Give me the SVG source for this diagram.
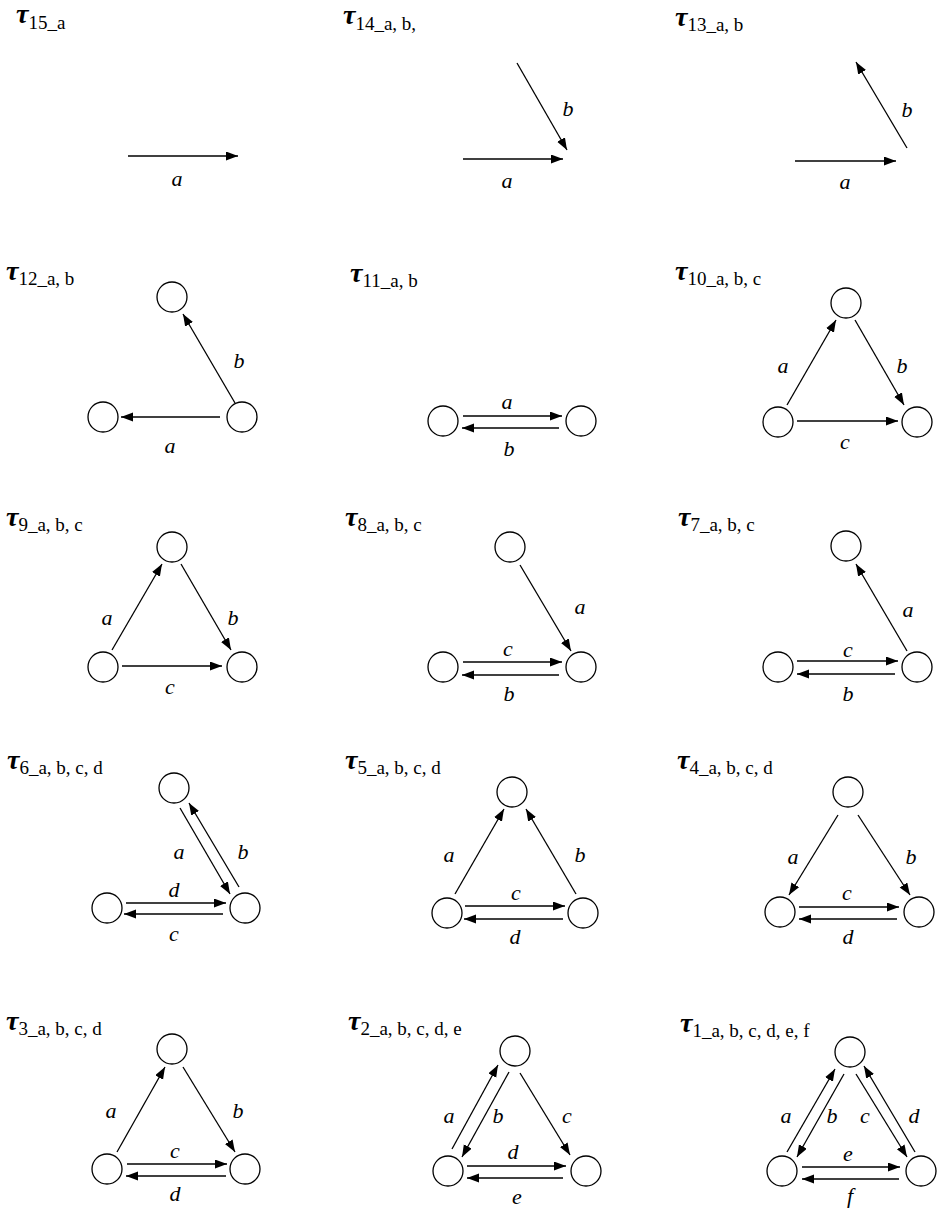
<svg xmlns="http://www.w3.org/2000/svg" width="943" height="1212" viewBox="0 0 943 1212">
<style>
.bg{fill:#fff}
.t{font-family:"Liberation Serif",serif;fill:#000}
.tau{font-size:28px;font-weight:bold;font-style:italic}
.sub{font-size:19px}
.lb{font-family:"Liberation Serif",serif;font-size:22px;font-style:italic;fill:#000;text-anchor:middle}
.n{fill:#fff;stroke:#000;stroke-width:1.3}
.e{stroke:#000;stroke-width:1.3;fill:none;marker-end:url(#ah)}
</style>
<defs>
<marker id="ah" markerUnits="userSpaceOnUse" markerWidth="13" markerHeight="10" refX="12" refY="4.5" orient="auto" viewBox="0 0 13 10">
<path d="M0,0 L12,4.5 L0,9 z" fill="#000"/>
</marker>
</defs>
<rect class="bg" x="0" y="0" width="943" height="1212"/>

<!-- titles -->
<g id="titles">
<text class="t" x="16" y="23"><tspan class="tau">τ</tspan><tspan class="sub" dy="6">15_a</tspan></text>
<text class="t" x="343" y="24"><tspan class="tau">τ</tspan><tspan class="sub" dy="6">14_a, b,</tspan></text>
<text class="t" x="675" y="26"><tspan class="tau">τ</tspan><tspan class="sub" dy="5">13_a, b</tspan></text>
<text class="t" x="6" y="280"><tspan class="tau">τ</tspan><tspan class="sub" dy="5">12_a, b</tspan></text>
<text class="t" x="350" y="282"><tspan class="tau">τ</tspan><tspan class="sub" dy="5">11_a, b</tspan></text>
<text class="t" x="675" y="280"><tspan class="tau">τ</tspan><tspan class="sub" dy="5">10_a, b, c</tspan></text>
<text class="t" x="6" y="526"><tspan class="tau">τ</tspan><tspan class="sub" dy="5">9_a, b, c</tspan></text>
<text class="t" x="345" y="526"><tspan class="tau">τ</tspan><tspan class="sub" dy="5">8_a, b, c</tspan></text>
<text class="t" x="678" y="526"><tspan class="tau">τ</tspan><tspan class="sub" dy="5">7_a, b, c</tspan></text>
<text class="t" x="7" y="769"><tspan class="tau">τ</tspan><tspan class="sub" dy="5">6_a, b, c, d</tspan></text>
<text class="t" x="345" y="769"><tspan class="tau">τ</tspan><tspan class="sub" dy="5">5_a, b, c, d</tspan></text>
<text class="t" x="677" y="769"><tspan class="tau">τ</tspan><tspan class="sub" dy="5">4_a, b, c, d</tspan></text>
<text class="t" x="6" y="1030"><tspan class="tau">τ</tspan><tspan class="sub" dy="5">3_a, b, c, d</tspan></text>
<text class="t" x="348" y="1030"><tspan class="tau">τ</tspan><tspan class="sub" dy="5">2_a, b, c, d, e</tspan></text>
<text class="t" x="680" y="1032"><tspan class="tau">τ</tspan><tspan class="sub" dy="5">1_a, b, c, d, e, f</tspan></text>
</g>

<!-- nodes -->
<g id="n12"><circle class="n" cx="172" cy="297" r="15"/><circle class="n" cx="103" cy="417" r="15"/><circle class="n" cx="242" cy="417" r="15"/></g>
<g id="n11"><circle class="n" cx="443" cy="421" r="15"/><circle class="n" cx="581" cy="421" r="15"/></g>
<g id="n10"><circle class="n" cx="846" cy="303" r="15"/><circle class="n" cx="778" cy="422" r="15"/><circle class="n" cx="917" cy="422" r="15"/></g>
<g id="n9"><circle class="n" cx="172" cy="547" r="15"/><circle class="n" cx="103" cy="667" r="15"/><circle class="n" cx="242" cy="667" r="15"/></g>
<g id="n8"><circle class="n" cx="510" cy="547" r="15"/><circle class="n" cx="443" cy="667" r="15"/><circle class="n" cx="581" cy="667" r="15"/></g>
<g id="n7"><circle class="n" cx="846" cy="546" r="15"/><circle class="n" cx="778" cy="667" r="15"/><circle class="n" cx="917" cy="667" r="15"/></g>
<g id="n6"><circle class="n" cx="174" cy="788" r="15"/><circle class="n" cx="107" cy="908" r="15"/><circle class="n" cx="245" cy="908" r="15"/></g>
<g id="n5"><circle class="n" cx="512" cy="792" r="15"/><circle class="n" cx="447" cy="913" r="15"/><circle class="n" cx="583" cy="913" r="15"/></g>
<g id="n4"><circle class="n" cx="848" cy="792" r="15"/><circle class="n" cx="780" cy="912" r="15"/><circle class="n" cx="919" cy="912" r="15"/></g>
<g id="n3"><circle class="n" cx="172" cy="1049" r="15"/><circle class="n" cx="107" cy="1169" r="15"/><circle class="n" cx="245" cy="1169" r="15"/></g>
<g id="n2"><circle class="n" cx="515" cy="1051" r="15"/><circle class="n" cx="448" cy="1171" r="15"/><circle class="n" cx="586" cy="1171" r="15"/></g>
<g id="n1"><circle class="n" cx="850" cy="1052" r="15"/><circle class="n" cx="782" cy="1171" r="15"/><circle class="n" cx="921" cy="1171" r="15"/></g>

<!-- connectors -->
<g id="connectors">
<!-- 15 -->
<line class="e" x1="128" y1="156" x2="238" y2="156"/>
<!-- 14 -->
<line class="e" x1="463" y1="159" x2="563" y2="159"/>
<line class="e" x1="517" y1="63" x2="567" y2="150"/>
<!-- 13 -->
<line class="e" x1="795" y1="161" x2="896" y2="161"/>
<line class="e" x1="907" y1="148" x2="856" y2="62"/>
<!-- 12 -->
<line class="e" x1="220" y1="417" x2="121" y2="417"/>
<line class="e" x1="235" y1="403" x2="183" y2="314"/>
<!-- 11 -->
<line class="e" x1="463" y1="416" x2="562" y2="416"/>
<line class="e" x1="559" y1="428" x2="462" y2="428"/>
<!-- 10 -->
<line class="e" x1="787" y1="405" x2="836" y2="320"/>
<line class="e" x1="855" y1="320" x2="904" y2="405"/>
<line class="e" x1="797" y1="421" x2="898" y2="421"/>
<!-- 9 -->
<line class="e" x1="112" y1="650" x2="162" y2="564"/>
<line class="e" x1="181" y1="564" x2="231" y2="650"/>
<line class="e" x1="122" y1="666" x2="222" y2="666"/>
<!-- 8 -->
<line class="e" x1="520" y1="565" x2="571" y2="651"/>
<line class="e" x1="463" y1="662" x2="562" y2="662"/>
<line class="e" x1="559" y1="675" x2="462" y2="675"/>
<!-- 7 -->
<line class="e" x1="907" y1="651" x2="856" y2="564"/>
<line class="e" x1="797" y1="661" x2="898" y2="661"/>
<line class="e" x1="895" y1="674" x2="797" y2="674"/>
<!-- 6 -->
<line class="e" x1="180" y1="808" x2="230" y2="894"/>
<line class="e" x1="239" y1="887" x2="189" y2="803"/>
<line class="e" x1="126" y1="903" x2="226" y2="903"/>
<line class="e" x1="223" y1="914" x2="124" y2="914"/>
<!-- 5 -->
<line class="e" x1="455" y1="894" x2="504" y2="809"/>
<line class="e" x1="576" y1="894" x2="526" y2="809"/>
<line class="e" x1="465" y1="906" x2="565" y2="906"/>
<line class="e" x1="563" y1="919" x2="464" y2="919"/>
<!-- 4 -->
<line class="e" x1="838" y1="815" x2="789" y2="895"/>
<line class="e" x1="858" y1="815" x2="910" y2="895"/>
<line class="e" x1="799" y1="907" x2="899" y2="907"/>
<line class="e" x1="897" y1="919" x2="799" y2="919"/>
<!-- 3 -->
<line class="e" x1="117" y1="1152" x2="165" y2="1067"/>
<line class="e" x1="183" y1="1067" x2="235" y2="1152"/>
<line class="e" x1="127" y1="1164" x2="227" y2="1164"/>
<line class="e" x1="226" y1="1176" x2="126" y2="1176"/>
<!-- 2 -->
<line class="e" x1="452" y1="1149" x2="498" y2="1065"/>
<line class="e" x1="509" y1="1072" x2="462" y2="1157"/>
<line class="e" x1="520" y1="1073" x2="570" y2="1155"/>
<line class="e" x1="467" y1="1166" x2="566" y2="1166"/>
<line class="e" x1="563" y1="1178" x2="467" y2="1178"/>
<!-- 1 -->
<line class="e" x1="787" y1="1152" x2="835" y2="1069"/>
<line class="e" x1="844" y1="1074" x2="797" y2="1157"/>
<line class="e" x1="856" y1="1074" x2="907" y2="1157"/>
<line class="e" x1="915" y1="1152" x2="864" y2="1066"/>
<line class="e" x1="802" y1="1167" x2="900" y2="1167"/>
<line class="e" x1="899" y1="1179" x2="802" y2="1179"/>
</g>

<!-- labels -->
<g id="labels">
<text class="lb" x="177" y="186">a</text>
<text class="lb" x="507" y="188">a</text>
<text class="lb" x="568" y="116">b</text>
<text class="lb" x="845" y="189">a</text>
<text class="lb" x="907" y="117">b</text>
<text class="lb" x="170" y="453">a</text>
<text class="lb" x="239" y="368">b</text>
<text class="lb" x="507" y="409">a</text>
<text class="lb" x="509" y="456">b</text>
<text class="lb" x="783" y="373">a</text>
<text class="lb" x="902" y="373">b</text>
<text class="lb" x="845" y="449">c</text>
<text class="lb" x="107" y="625">a</text>
<text class="lb" x="233" y="625">b</text>
<text class="lb" x="170" y="694">c</text>
<text class="lb" x="580" y="614">a</text>
<text class="lb" x="508" y="656">c</text>
<text class="lb" x="509" y="701">b</text>
<text class="lb" x="908" y="617">a</text>
<text class="lb" x="848" y="657">c</text>
<text class="lb" x="848" y="701">b</text>
<text class="lb" x="179" y="859">a</text>
<text class="lb" x="243" y="859">b</text>
<text class="lb" x="174" y="897">d</text>
<text class="lb" x="174" y="941">c</text>
<text class="lb" x="449" y="862">a</text>
<text class="lb" x="580" y="862">b</text>
<text class="lb" x="516" y="900">c</text>
<text class="lb" x="515" y="944">d</text>
<text class="lb" x="793" y="864">a</text>
<text class="lb" x="911" y="864">b</text>
<text class="lb" x="847" y="900">c</text>
<text class="lb" x="848" y="944">d</text>
<text class="lb" x="111" y="1118">a</text>
<text class="lb" x="238" y="1118">b</text>
<text class="lb" x="175" y="1158">c</text>
<text class="lb" x="175" y="1201">d</text>
<text class="lb" x="449" y="1123">a</text>
<text class="lb" x="498" y="1123">b</text>
<text class="lb" x="567" y="1123">c</text>
<text class="lb" x="513" y="1159">d</text>
<text class="lb" x="517" y="1204">e</text>
<text class="lb" x="786" y="1123">a</text>
<text class="lb" x="832" y="1123">b</text>
<text class="lb" x="865" y="1123">c</text>
<text class="lb" x="914" y="1123">d</text>
<text class="lb" x="848" y="1161">e</text>
<text class="lb" x="850" y="1203">f</text>
</g>
</svg>
